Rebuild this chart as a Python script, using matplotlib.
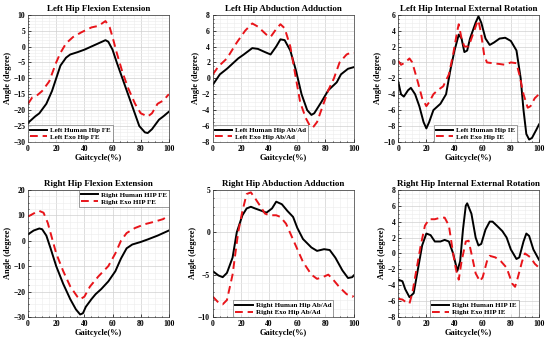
import matplotlib
matplotlib.use("Agg")
import matplotlib.pyplot as plt
from matplotlib.ticker import AutoMinorLocator
import numpy as np

plt.rcParams['font.family'] = ['Liberation Serif', 'DejaVu Serif']
plt.rcParams['font.weight'] = 'bold'
plt.rcParams['axes.titleweight'] = 'bold'
plt.rcParams['axes.labelweight'] = 'bold'

# ---------- data ----------
# Left Hip FE
lfe_hx = [0, 5, 8, 13, 17, 20, 23, 27, 30, 35, 40, 45, 50, 55, 57, 60, 63, 67, 71, 75, 79, 83, 85, 88, 93, 96, 100]
lfe_hy = [-24, -22, -21, -18, -14, -10, -6, -3.5, -2.5, -1.8, -1, 0, 1, 2, 1.5, -1, -5, -10, -15, -20, -25, -27, -27.2, -26, -23, -22, -20.5]
lfe_ex = [0, 3, 6, 10, 15, 20, 23, 27, 32, 38, 45, 50, 55, 58, 60, 63, 67, 71, 76, 80, 85, 88, 92, 96, 100]
lfe_ey = [-18, -16, -15.5, -14, -11, -5, -2, 1, 3, 4.5, 6, 6.5, 8, 6, 3, -2, -8, -13, -18, -21, -22, -21, -18, -17, -15]

# Left Hip Ab/Ad
laa_hx = [0, 5, 10, 18, 22, 28, 32, 37, 41, 45, 48, 51, 55, 59, 63, 67, 70, 72, 77, 82, 88, 91, 96, 100]
laa_hy = [-0.8, 0.5, 1.2, 2.5, 3, 3.8, 3.7, 3.3, 3, 4, 4.9, 4.8, 3.5, 1, -2, -4, -4.6, -4.4, -3, -1.5, -0.5, 0.5, 1.2, 1.4]
laa_ex = [0, 4, 10, 17, 23, 28, 32, 38, 41, 45, 48, 51, 55, 59, 62, 66, 69, 71, 74, 78, 82, 86, 90, 95, 99, 100]
laa_ey = [0.5, 1.5, 2.5, 4.5, 6, 6.9, 6.5, 5.5, 5.2, 6.2, 6.8, 6.3, 4, 0, -3, -5, -6, -6.2, -5.5, -3.5, -1.5, 0, 2, 3, 3.3, 3.2]

# Left Hip IE
lie_hx = [0, 2, 4, 7, 9, 12, 15, 18, 20, 22, 25, 30, 34, 37, 40, 43, 45, 47, 49, 51, 55, 57, 59, 62, 65, 68, 72, 76, 80, 84, 87, 89, 91, 93, 95, 98, 100]
lie_hy = [-2.4, -4, -4.3, -3.5, -3.2, -4, -5.5, -7.5, -8.3, -7.5, -6, -5.2, -4, -1, 1.5, 3.5, 3, 1.3, 1.5, 3, 5, 5.8, 5, 3, 2.2, 2.5, 3, 3.1, 2.7, 1.5, -2, -6, -9, -9.7, -9.5, -8.5, -7.8]
lie_ex = [0, 2, 5, 8, 10, 14, 17, 20, 22, 25, 28, 32, 36, 39, 42, 43, 45, 47, 50, 52, 56, 57, 59, 61, 63, 67, 72, 76, 80, 84, 86, 89, 92, 94, 97, 100]
lie_ey = [0.2, -0.3, 0, 0.5, 0, -2.5, -4.5, -5.5, -5, -4, -3.5, -3, -1.5, 1, 4, 4.8, 3, 2, 2, 3, 5, 5.3, 3.5, 1, 0, -0.1, -0.2, -0.3, 0, -0.1, -1.5, -4, -5.7, -5.5, -4.5, -4]

# Right Hip FE
rfe_hx = [0, 4, 8, 10, 13, 16, 20, 25, 30, 34, 37, 39, 41, 45, 48, 52, 57, 62, 66, 70, 74, 80, 85, 92, 100]
rfe_hy = [2.5, 4, 4.8, 4.5, 2, -3, -10, -17, -23, -27, -29, -28.5, -26, -23, -21, -19, -16, -12, -7, -3, -1.5, -0.5, 0.5, 2, 4]
rfe_ex = [0, 5, 8, 11, 14, 17, 20, 25, 30, 35, 37, 40, 44, 50, 57, 62, 66, 70, 76, 83, 90, 96, 100]
rfe_ey = [9.5, 11, 11.7, 11, 7, 1, -5, -12, -18, -22, -23, -22, -18, -14, -10, -5, 0, 3, 5, 6.5, 7.5, 8.5, 10]

# Right Hip Ab/Ad
raa_hx = [0, 4, 7, 10, 14, 17, 21, 24, 27, 30, 35, 38, 42, 45, 49, 53, 57, 60, 64, 70, 74, 79, 83, 87, 92, 96, 99, 100]
raa_hy = [-4.6, -5.1, -5.3, -4.8, -3, 0, 2, 2.8, 3, 2.8, 2.5, 2.3, 2.8, 3.6, 3.3, 2.5, 1.8, 0.5, -0.8, -1.8, -2.2, -2, -2.1, -3, -4.5, -5.4, -5.3, -5.1]
raa_ex = [0, 4, 7, 10, 14, 18, 21, 24, 27, 30, 34, 37, 40, 45, 48, 52, 56, 60, 64, 70, 74, 78, 82, 85, 90, 95, 99, 100]
raa_ey = [-7.6, -8.3, -8.5, -8, -5, 0, 2.5, 4.5, 4.7, 4, 3, 2.2, 2, 2, 1.8, 1, -0.5, -2, -3.5, -5, -5.5, -5.3, -5, -5.5, -6.5, -7.3, -7.6, -7.5]

# Right Hip IE
rie_hx = [0, 3, 5, 8, 11, 14, 17, 20, 23, 26, 30, 33, 36, 39, 42, 44, 46, 48, 49, 52, 55, 57, 59, 62, 65, 67, 70, 74, 77, 80, 84, 86, 89, 91, 93, 96, 100]
rie_hy = [-3.3, -3.5, -4.5, -5.5, -5, -2, 1, 2.5, 2.3, 1.5, 1.5, 1.7, 1.5, 0, -2.2, -1, 3, 6, 6.3, 5, 2, 1, 1.2, 3, 4, 4, 3.5, 2.8, 2, 0.5, -0.7, -0.5, 1.5, 2.5, 2.2, 0.5, -0.8]
rie_ex = [0, 3, 6, 8, 10, 13, 16, 19, 22, 26, 30, 33, 36, 39, 41, 43, 45, 48, 50, 52, 55, 58, 60, 63, 65, 69, 73, 77, 81, 83, 85, 88, 90, 94, 97, 100]
rie_ey = [-5.7, -5.8, -6.2, -6.3, -5, -2, 1, 3.5, 4.3, 4.3, 4.5, 4.5, 3.5, 0, -2, -3.3, -1, 1.5, 1.6, 0, -2.5, -3.5, -3, -1, -0.3, -0.5, -1, -1.8, -3.8, -4.2, -3, -1, 0, -0.5, -1.3, -1.8]

panels = [
    ("Left Hip Flexion Extension", lfe_hx, lfe_hy, lfe_ex, lfe_ey, (-30, 10), 5,
     ["Left Human Hip FE", "Left Exo Hip FE"], "lower left", (0, 0)),
    ("Left Hip Abduction Adduction", laa_hx, laa_hy, laa_ex, laa_ey, (-8, 8), 2,
     ["Left Human Hip Ab/Ad", "Left Exo Hip Ab/Ad"], "lower left", (0, 0)),
    ("Left Hip Internal External Rotation", lie_hx, lie_hy, lie_ex, lie_ey, (-10, 6), 2,
     ["Left Human Hip IE", "Left Exo Hip IE"], "lower center", (0.55, 0)),
    ("Right Hip Flexion Extension", rfe_hx, rfe_hy, rfe_ex, rfe_ey, (-30, 20), 10,
     ["Right Human HIP FE", "Right Exo HIP FE"], "upper right", (1, 1)),
    ("Right Hip Abduction Adduction", raa_hx, raa_hy, raa_ex, raa_ey, (-10, 5), 5,
     ["Right Human Hip Ab/Ad", "Right Exo Hip Ab/Ad"], "lower center", (0.5, 0)),
    ("Right Hip Internal External Rotation", rie_hx, rie_hy, rie_ex, rie_ey, (-8, 8), 2,
     ["Right Human HIP IE", "Right Exo HIP IE"], "lower center", (0.54, 0)),
]

fig = plt.figure(figsize=(5.5, 3.42), dpi=100)
lefts = [0.051, 0.387, 0.724]
bottoms = [0.585, 0.073]
w, h = 0.256, 0.372

for i, (title, hx, hy, ex, ey, ylim, ystep, labels, loc, anchor) in enumerate(panels):
    r, c = divmod(i, 3)
    ax = fig.add_axes([lefts[c], bottoms[r], w, h])
    ax.plot(hx, hy, color='black', lw=1.4, label=labels[0])
    ax.plot(ex, ey, color='#e8141a', lw=1.4, ls=(0, (4, 2.5)), label=labels[1])
    ax.set_xlim(0, 100)
    ax.set_ylim(*ylim)
    ax.set_xticks(np.arange(0, 101, 20))
    ax.set_yticks(np.arange(ylim[0], ylim[1] + 0.01, ystep))
    ax.xaxis.set_minor_locator(AutoMinorLocator(4))
    ax.yaxis.set_minor_locator(AutoMinorLocator(4 if ystep != 5 else 5))
    ax.grid(which='major', color='#d0d0d0', lw=0.5)
    ax.grid(which='minor', color='#ececec', lw=0.4)
    ax.set_axisbelow(True)
    ax.tick_params(which='both', direction='in', labelsize=5.5, length=2, width=0.5, pad=2)
    ax.tick_params(which='minor', length=1)
    for s in ax.spines.values():
        s.set_linewidth(0.5)
        s.set_color('#333333')
    ax.set_title(title, fontsize=6.5, pad=3)
    ax.set_xlabel("Gaitcycle(%)", fontsize=6, labelpad=1)
    ax.set_ylabel("Angle (degree)", fontsize=6, labelpad=1)
    leg = ax.legend(loc=loc, bbox_to_anchor=anchor, fontsize=5, frameon=True, fancybox=False,
                    borderpad=0.3, labelspacing=0.15, handlelength=2.5, handletextpad=0.4,
                    borderaxespad=0.0)
    leg.get_frame().set_edgecolor('#555555')
    leg.get_frame().set_linewidth(0.5)

fig.savefig("out.png", dpi=100)
